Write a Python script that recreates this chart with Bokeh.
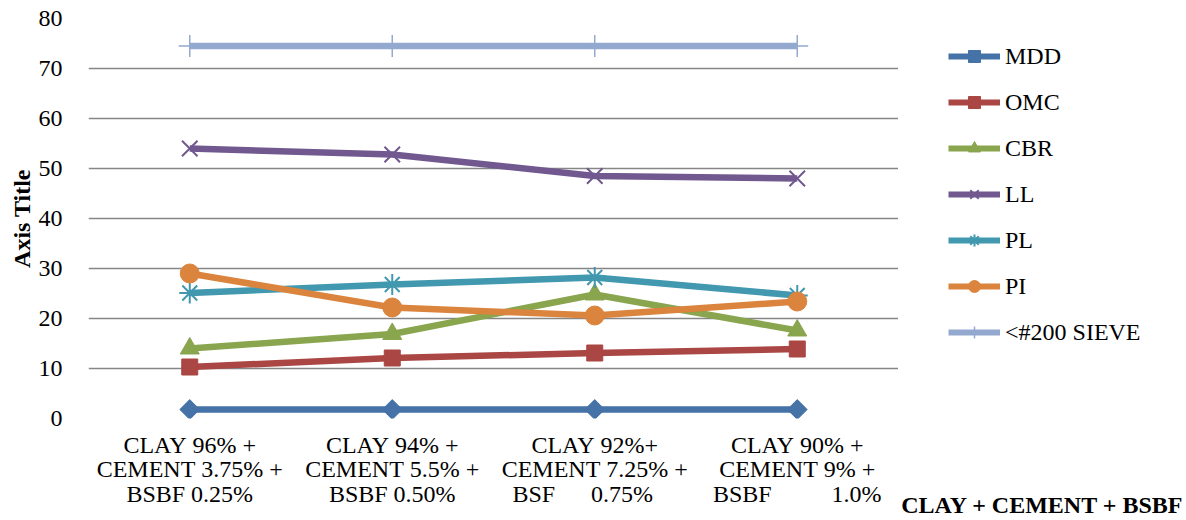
from bokeh.plotting import figure
from bokeh.layouts import row
from bokeh.models import Legend, LegendItem, Range1d, FactorRange
from bokeh.embed import file_html
from bokeh.resources import INLINE

categories = [
    "CLAY 96% +\nCEMENT 3.75% +\nBSBF 0.25%",
    "CLAY 94% +\nCEMENT 5.5% +\nBSBF 0.50%",
    "CLAY 92%+\nCEMENT 7.25% +\nBSF      0.75%    ",
    "CLAY 90% +\nCEMENT 9% +\nBSBF          1.0%",
]
MDD = [1.8, 1.8, 1.8, 1.8]
OMC = [10.3, 12.1, 13.1, 13.9]
CBR = [14.0, 16.9, 24.8, 17.6]
LL = [54.0, 52.8, 48.5, 48.0]
PL = [25.1, 26.8, 28.2, 24.6]
PI = [29.0, 22.2, 20.6, 23.4]
SIEVE = [74.5, 74.5, 74.5, 74.5]
y_ticks = [0, 10, 20, 30, 40, 50, 60, 70, 80]

x_title = "CLAY + CEMENT + BSBF"
y_title = "Axis Title"

labels = [c.replace(" ", "\u00a0") for c in categories]
FONT = "Liberation Serif"
FS = "24px"
LW = 6.5


def plain_axis(ax):
    ax.axis_line_color = None
    ax.major_tick_line_color = None
    ax.minor_tick_line_color = None
    ax.major_label_text_font = FONT
    ax.major_label_text_font_size = FS
    ax.major_label_text_color = "black"


p = figure(
    x_range=FactorRange(*labels, range_padding=0),
    y_range=Range1d(0, 80),
    frame_width=810, frame_height=400,
    min_border_left=88, min_border_right=0, min_border_top=18, min_border_bottom=102,
    output_backend="svg", toolbar_location=None,
)
p.outline_line_color = None
p.xgrid.grid_line_color = None
p.ygrid.grid_line_color = "#868686"
p.ygrid.grid_line_width = 1.6
p.yaxis.ticker = y_ticks
plain_axis(p.xaxis[0])
plain_axis(p.yaxis[0])

p.yaxis.major_label_standoff = 20
p.yaxis.axis_label = y_title
p.yaxis.axis_label_text_font = FONT
p.yaxis.axis_label_text_font_style = "bold"
p.yaxis.axis_label_text_font_size = FS
p.yaxis.axis_label_text_color = "black"
p.yaxis.axis_label_standoff = 1
p.xaxis.major_label_standoff = 7
p.xaxis.major_label_text_line_height = 0.95

series = [
    ("MDD", MDD, "#4572A7", dict(marker="square", size=14, angle=0.785398)),
    ("OMC", OMC, "#AA4643", dict(marker="square", size=16)),
    ("CBR", CBR, "#89A54E", dict(marker="triangle", size=19)),
    ("LL", LL, "#71588F", dict(marker="x", size=22, line_width=2)),
    ("PL", PL, "#4198AF", dict(marker="asterisk", size=21, line_width=2)),
    ("PI", PI, "#DB843D", dict(marker="circle", size=19)),
    ("<#200 SIEVE", SIEVE, "#93A9CF", dict(marker="cross", size=22, line_width=1.5)),
]

for name, vals, col, mk in series:
    p.line(labels, vals, line_color=col, line_width=LW)
    p.scatter(labels, vals, color=col, **mk)

# side plot: holds the legend and the x-axis title (as its single axis label)
s = figure(
    width=288, height=520,
    x_range=FactorRange(x_title, range_padding=0), y_range=Range1d(0, 80),
    min_border=0, x_axis_location="below", y_axis_location=None,
    output_backend="svg", toolbar_location=None,
)
s.outline_line_color = None
s.grid.grid_line_color = None
plain_axis(s.xaxis[0])
s.xaxis.major_label_text_font_style = "bold"
s.xaxis.major_label_standoff = 74

items = []
for name, vals, col, mk in series:
    xs = [x_title] * len(vals)
    r1 = s.line(xs, vals, line_color=col, line_width=6, visible=False)
    r2 = s.scatter(xs, vals, color=col, visible=False, **mk)
    items.append(LegendItem(label=name, renderers=[r1, r2]))

legend = Legend(
    items=items, location=(50, 64),
    glyph_width=52, glyph_height=30, label_height=30, spacing=16,
    label_standoff=5, padding=0, margin=0,
    border_line_color=None, background_fill_alpha=0,
    label_text_font=FONT, label_text_font_size=FS, label_text_color="black",
)
s.add_layout(legend, "center")

layout = row(p, s, spacing=0)
open("out.html", "w").write(file_html(layout, INLINE))
